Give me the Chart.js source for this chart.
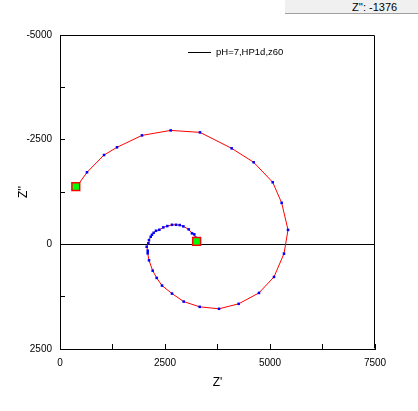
<!DOCTYPE html>
<html>
<head>
<meta charset="utf-8">
<script src="https://cdn.jsdelivr.net/npm/chart.js@4/dist/chart.umd.min.js"></script>
<style>
  body { margin: 0; background: #fff; }
  #wrap { position: relative; width: 418px; height: 411px; }
  #status {
    position: absolute; left: 285px; top: 0; width: 133px; height: 14px;
    background: #f0f0f0; border-bottom: 1px solid #a0a0a0;
    font: 11px "Liberation Sans", Arial, sans-serif; color: #000;
    line-height: 14px; box-sizing: border-box; padding-left: 67px;
  }
</style>
</head>
<body>
<div id="wrap">
  <canvas id="myChart" width="418" height="411"></canvas>
  <div id="status">Z'': -1376</div>
</div>
<script>
// DATA
var seriesName = "pH=7,HP1d,z60";
var zReal = [376, 436, 643, 1048, 1357, 1952, 2635, 3333, 4087, 4611, 5064, 5278, 5429,
  5333, 5095, 4738, 4254, 3786, 3326, 2945, 2667, 2429, 2302, 2207, 2119, 2088, 2088,
  2064, 2102, 2119, 2160, 2190, 2230, 2286, 2365, 2460, 2555, 2667, 2762, 2850, 2937,
  3064, 3143, 3198, 3230, 3254];
var zImag = [-1380, -1429, -1721, -2133, -2317, -2602, -2721, -2674, -2293, -1960, -1483, -990, -345,
  222, 779, 1160, 1421, 1540, 1493, 1367, 1176, 986, 802, 629, 381, 214, 152,
  57, -24, -102, -181, -229, -276, -324, -348, -405, -436, -467, -467, -460, -429,
  -357, -262, -238, -157, -71];
var xTicks = [0, 2500, 5000, 7500];
var yTicks = [-5000, -2500, 0, 2500];

var spiral = zReal.map(function(x, i){ return {x: x, y: zImag[i]}; });
var ends = [spiral[0], spiral[spiral.length - 1]];

// frame + legend
var framePlugin = {
  id: 'frame',
  afterDraw: function(chart){
    var ctx = chart.ctx, a = chart.chartArea;
    ctx.save();
    ctx.strokeStyle = '#000';
    ctx.lineWidth = 1;
    ctx.beginPath();
    ctx.moveTo(Math.round(a.left) + 0.5, Math.round(a.top) + 0.5);
    ctx.lineTo(Math.round(a.right) - 0.5, Math.round(a.top) + 0.5);
    ctx.lineTo(Math.round(a.right) - 0.5, Math.round(a.bottom) - 0.5);
    ctx.stroke();
    // legend
    ctx.beginPath();
    ctx.moveTo(188, 52.5);
    ctx.lineTo(211, 52.5);
    ctx.stroke();
    ctx.fillStyle = '#000';
    ctx.font = '9.5px "Liberation Sans", Arial, sans-serif';
    ctx.textBaseline = 'middle';
    ctx.fillText(seriesName, 216, 52);
    ctx.restore();
  }
};

Chart.defaults.font.family = '"Liberation Sans", Arial, sans-serif';
Chart.defaults.color = '#000';

var ctx = document.getElementById('myChart').getContext('2d');
var chart = new Chart(ctx, {
  type: 'scatter',
  data: {
    datasets: [{
      label: 'ends',
      data: ends,
      showLine: false,
      pointStyle: 'rect',
      pointRadius: 5.5,
      pointBackgroundColor: '#00ff00',
      pointBorderColor: '#ff0000',
      pointBorderWidth: 1.5
    }, {
      label: seriesName,
      data: spiral,
      showLine: true,
      borderColor: '#ff0000',
      borderWidth: 1,
      tension: 0,
      pointStyle: 'rect',
      pointRadius: 1.8,
      pointBackgroundColor: '#0000ff',
      pointBorderWidth: 0
    }]
  },
  options: {
    responsive: false,
    animation: false,
    devicePixelRatio: 1,
    layout: { padding: { top: 35, right: 43, left: 0, bottom: 0 } },
    plugins: { legend: { display: false }, tooltip: { enabled: false } },
    scales: {
      x: {
        type: 'linear', min: 0, max: 7500,
        afterFit: function(s){ s.height = 62; },
        ticks: {
          stepSize: 1250, padding: 13, maxRotation: 0, autoSkip: false,
          font: { size: 10 },
          callback: function(v){ return xTicks.indexOf(v) >= 0 ? String(v) : ''; }
        },
        grid: { drawOnChartArea: false, tickLength: -5, tickColor: '#000' },
        border: { color: '#000', width: 1 },
        title: { display: true, text: "Z'", font: { size: 12 }, padding: { top: 0, bottom: 21 } }
      },
      y: {
        type: 'linear', min: -5000, max: 2500, reverse: true,
        afterFit: function(s){ s.width = 60; },
        ticks: {
          stepSize: 1250, padding: 13, autoSkip: false,
          font: { size: 10 },
          callback: function(v){ return yTicks.indexOf(v) >= 0 ? String(v) : ''; }
        },
        grid: {
          drawOnChartArea: true, tickLength: -5, tickColor: '#000',
          color: function(c){ return c.tick && c.tick.value === 0 ? '#000' : 'rgba(0,0,0,0)'; }
        },
        border: { color: '#000', width: 1 },
        title: { display: true, text: "Z''", font: { size: 12 }, padding: { top: 16, bottom: 0 } }
      }
    }
  },
  plugins: [framePlugin]
});
</script>
</body>
</html>
